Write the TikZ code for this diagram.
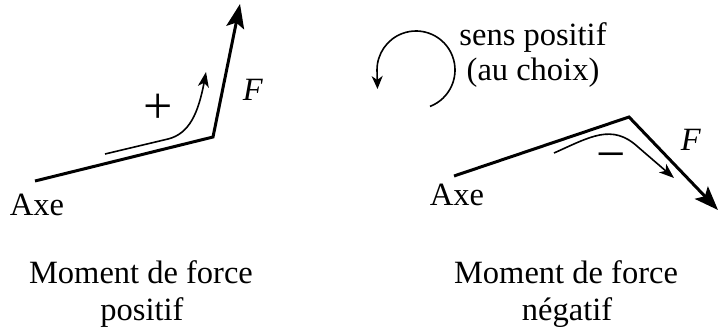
\documentclass[tikz,border=0pt]{standalone}
\usepackage{fontspec}
\setmainfont{Liberation Serif}
\usetikzlibrary{arrows.meta,bending}
\begin{document}
\begin{tikzpicture}[x=1pt,y=-1pt,
  txt/.style={font=\fontsize{32.5}{37}\selectfont, inner sep=0pt, anchor=base},
  sign/.style={font=\fontsize{52}{52}\selectfont, inner sep=0pt, anchor=center},
  force/.style={line width=3pt, -{Stealth[length=24pt,width=18pt,inset=5pt]}},
  sens/.style={line width=1.6pt, -{Stealth[length=15pt,width=11pt,inset=4pt]}}]
\useasboundingbox (0,0) rectangle (719,327);

% left: positive moment
\coordinate (axeL) at (35,181);
\coordinate (cornL) at (213,137);
\coordinate (tipL) at (240,4);
\draw[force] (axeL) -- (cornL) -- (tipL);
\coordinate (sL0) at (105,154);
\coordinate (sL1) at (168,139);
\coordinate (sL2) at (206,72);
\draw[sens] (sL0) -- (sL1) .. controls (192,133) and (200,108) .. (sL2);
\node[sign] (plus) at (158,109) {+};
\node[txt] (FL) at (253,100) {\textit{F}};
\node[txt] (axeLt) at (37,215) {Axe};
\node[txt] (mL1) at (141,283) {Moment de force};
\node[txt] (mL2) at (142,320) {positif};

% rotation sense
\coordinate (rc) at (416,70);
\coordinate (rEnd) at (377.5,89);
\draw[line width=1.6pt, -{Stealth[length=13pt,width=11pt,inset=4pt]}]
  ([shift={(69:39)}]rc) arc[start angle=69, end angle=-180, radius=39] -- (rEnd);
\node[txt] (sp1) at (533,45) {sens positif};
\node[txt] (sp2) at (533,80) {(au choix)};

% right: negative moment
\coordinate (axeR) at (454,176);
\coordinate (cornR) at (629,117);
\coordinate (tipR) at (718,210);
\draw[force] (axeR) -- (cornR) -- (tipR);
\coordinate (sR0) at (554,153);
\coordinate (sR1) at (638,147);
\coordinate (sR2) at (674,178);
\draw[sens] (sR0) .. controls (590,137) and (612,123) .. (sR1) -- (sR2);
\node[sign] (minus) at (611,162) {−};
\node[txt] (FR) at (691,150) {\textit{F}};
\node[txt] (axeRt) at (457,205) {Axe};
\node[txt] (mR1) at (566,283) {Moment de force};
\node[txt] (mR2) at (567,320) {négatif};
\end{tikzpicture}
\end{document}
